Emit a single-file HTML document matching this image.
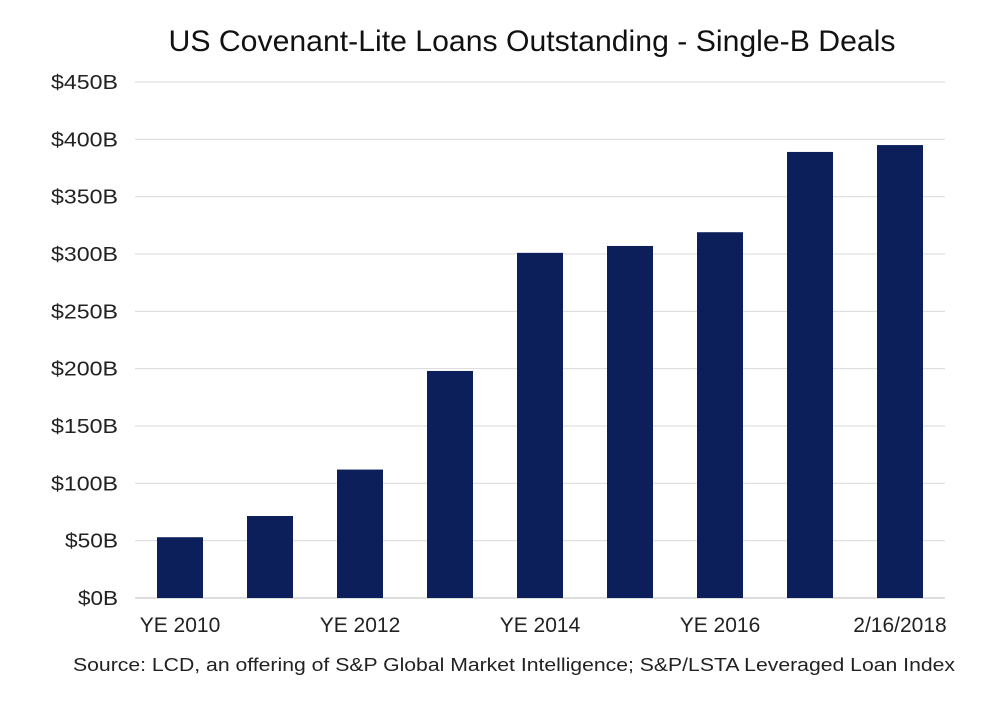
<!DOCTYPE html>
<html><head><meta charset="utf-8"><style>
html,body{margin:0;padding:0;background:#fff;}
svg text{font-family:"Liberation Sans",Arial,sans-serif;}
</style></head><body>
<svg id="chart" width="997" height="698" viewBox="0 0 997 698" xmlns="http://www.w3.org/2000/svg">
<rect width="997" height="698" fill="#fff"/>
<text x="532" y="51" text-anchor="middle" font-size="30" fill="#111" textLength="727" lengthAdjust="spacingAndGlyphs">US Covenant-Lite Loans Outstanding - Single-B Deals</text>
<g id="grid"></g>
<g id="yticks"></g>
<g id="bars"></g>
<g id="xticks"></g>
<text x="514" y="671" text-anchor="middle" font-size="18" fill="#222" textLength="882" lengthAdjust="spacingAndGlyphs">Source: LCD, an offering  of S&amp;P Global Market Intelligence;  S&amp;P/LSTA  Leveraged Loan Index</text>
</svg>
<script>
const categories = ["YE 2010","YE 2011","YE 2012","YE 2013","YE 2014","YE 2015","YE 2016","YE 2017","2/16/2018"];
const values = [53, 71.5, 112, 198, 301, 307, 319, 389, 395];
const yTicks = [0,50,100,150,200,250,300,350,400,450];
const showLabel = [true,false,true,false,true,false,true,false,true];

const NS="http://www.w3.org/2000/svg";
const x0=135, x1=945, y0=598, y1=82, yMax=450;
const band=(x1-x0)/categories.length, barW=46;
const yScale=v=>y0-(v/yMax)*(y0-y1);
const xCenter=i=>x0+band*(i+0.5);
function mk(tag,attrs,parent){const e=document.createElementNS(NS,tag);for(const k in attrs)e.setAttribute(k,attrs[k]);parent.appendChild(e);return e;}
const grid=document.getElementById('grid'), yt=document.getElementById('yticks'), bars=document.getElementById('bars'), xt=document.getElementById('xticks');
yTicks.forEach(t=>{
  const y=yScale(t);
  const l=mk('line',{x1:x0,x2:x1,y1:y,y2:y,stroke:t===0?'#bbb':'#d9d9d9','stroke-width':1},grid);
  
  
  const tx=mk('text',{x:118,y:y+7,'text-anchor':'end','font-size':20,fill:'#222',textLength:(('$'+t+'B').length*13.3).toFixed(0),lengthAdjust:'spacingAndGlyphs'},yt);
  tx.textContent='$'+t+'B';
  
  
});
values.forEach((v,i)=>{
  const r=mk('rect',{x:xCenter(i)-barW/2,y:yScale(v),width:barW,height:y0-yScale(v),fill:'#0c1f5b'},bars);
  
  
  if(showLabel[i]){
    const tx=mk('text',{x:xCenter(i),y:632,'text-anchor':'middle','font-size':21,fill:'#222'},xt);
    tx.textContent=categories[i];
    
    
  }
});
</script>
</body></html>
